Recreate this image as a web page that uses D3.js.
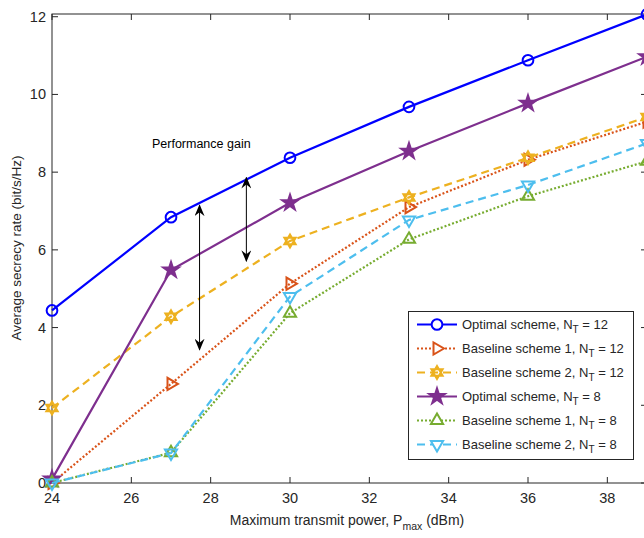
<!DOCTYPE html>
<html>
<head>
<meta charset="utf-8">
<script src="https://cdn.jsdelivr.net/npm/d3@7"></script>
<style>
  body { margin: 0; background: #fff; }
  svg text { font-family: "Liberation Sans", Arial, sans-serif; fill: #262626; }
</style>
</head>
<body>
<div id="chart"></div>
<script>
// datos
const potencia = [24, 27, 30, 33, 36, 39];
const optimo12 = [4.44, 6.84, 8.37, 9.68, 10.88, 12.06];
const base1_12 = [0.0, 2.55, 5.13, 7.1, 8.32, 9.3];
const base2_12 = [1.93, 4.28, 6.23, 7.35, 8.37, 9.42];
const optimo8 = [0.1, 5.48, 7.21, 8.54, 9.77, 10.97];
const base1_8 = [0.0, 0.78, 4.37, 6.27, 7.38, 8.28];
const base2_8 = [0.0, 0.77, 4.8, 6.77, 7.67, 8.74];
const xTicks = [24, 26, 28, 30, 32, 34, 36, 38];
const yTicks = [0, 2, 4, 6, 8, 10, 12];
// flechas de ganancia: [x, y inicio, y fin]
const flechas = [[27.72, 7.15, 3.43], [28.9, 7.86, 5.71]];

const series = [
  {nombre: "Optimal scheme, N", nt: "12", valores: optimo12, color: "#0000ff", dash: null, marca: "circulo"},
  {nombre: "Baseline scheme 1, N", nt: "12", valores: base1_12, color: "#d95319", dash: "2,2", marca: "derecha"},
  {nombre: "Baseline scheme 2, N", nt: "12", valores: base2_12, color: "#edb120", dash: "8,5", marca: "hexagrama"},
  {nombre: "Optimal scheme, N", nt: "8", valores: optimo8, color: "#7e2f8e", dash: null, marca: "estrella"},
  {nombre: "Baseline scheme 1, N", nt: "8", valores: base1_8, color: "#77ac30", dash: "2,2", marca: "arriba"},
  {nombre: "Baseline scheme 2, N", nt: "8", valores: base2_8, color: "#4dbeee", dash: "8,5", marca: "abajo"}
];

const ancho = 644, alto = 538;
const margen = {izq: 52, der: 647, arriba: 14, abajo: 483};

const svg = d3.select("#chart")
  .append("svg")
  .attr("width", ancho)
  .attr("height", alto);

const x = d3.scaleLinear().domain([24, 39]).range([margen.izq, margen.der]);
const y = d3.scaleLinear().domain([0, 12.07]).range([margen.abajo, margen.arriba]);

// caja de los ejes
const ejes = svg.append("g").attr("stroke", "#262626").attr("stroke-width", 1).attr("fill", "none");
ejes.append("rect")
  .attr("x", margen.izq).attr("y", margen.arriba)
  .attr("width", margen.der - margen.izq).attr("height", margen.abajo - margen.arriba);

// ticks hacia adentro
xTicks.forEach(t => {
  ejes.append("line").attr("x1", x(t)).attr("x2", x(t)).attr("y1", margen.abajo).attr("y2", margen.abajo - 6);
  ejes.append("line").attr("x1", x(t)).attr("x2", x(t)).attr("y1", margen.arriba).attr("y2", margen.arriba + 6);
});
yTicks.forEach(t => {
  ejes.append("line").attr("x1", margen.izq).attr("x2", margen.izq + 6).attr("y1", y(t)).attr("y2", y(t));
  ejes.append("line").attr("x1", margen.der).attr("x2", margen.der - 6).attr("y1", y(t)).attr("y2", y(t));
});

svg.append("g").selectAll("text")
  .data(xTicks)
  .join("text")
  .attr("x", d => x(d))
  .attr("y", 503)
  .attr("text-anchor", "middle")
  .attr("font-size", 14.5)
  .text(d => d);

svg.append("g").selectAll("text")
  .data(yTicks)
  .join("text")
  .attr("x", 46)
  .attr("y", d => y(d) + 5)
  .attr("text-anchor", "end")
  .attr("font-size", 14.5)
  .text(d => d);

// etiquetas de ejes
const xl = svg.append("text")
  .attr("x", 347).attr("y", 525)
  .attr("text-anchor", "middle")
  .attr("font-size", 14);
xl.append("tspan").text("Maximum transmit power, P");
xl.append("tspan").attr("font-size", 10.5).attr("dy", 5).text("max");
xl.append("tspan").attr("dy", -5).text(" (dBm)");

svg.append("text")
  .attr("transform", "translate(21,248) rotate(-90)")
  .attr("text-anchor", "middle")
  .attr("font-size", 13.5)
  .text("Average secrecy rate (bit/s/Hz)");

// marcadores
function tri(r) {
  const h = r * 1.5;
  return `M0,${-r}L${h * 0.58},${r * 0.5}L${-h * 0.58},${r * 0.5}Z`;
}
function marcador(tipo) {
  if (tipo === "circulo") return {d: d3.symbol(d3.symbolCircle, 90)(), rot: 0, lleno: false};
  if (tipo === "estrella") return {d: d3.symbol(d3.symbolStar, 75)(), rot: 0, lleno: true};
  if (tipo === "hexagrama") return {d: tri(6.5) + tri(6.5).replace(/(-?\d+\.?\d*),(-?\d+\.?\d*)/g, (m, a, b) => a + "," + (-b)), rot: 0, lleno: true};
  if (tipo === "arriba") return {d: tri(7), rot: 0, lleno: false};
  if (tipo === "abajo") return {d: tri(7), rot: 180, lleno: false};
  return {d: tri(7), rot: 90, lleno: false};
}

const linea = d3.line()
  .x((d, i) => x(potencia[i]))
  .y(d => y(d));

const plot = svg.append("g");

series.forEach(s => {
  plot.append("path")
    .attr("d", linea(s.valores))
    .attr("fill", "none")
    .attr("stroke", s.color)
    .attr("stroke-width", 2.2)
    .attr("stroke-dasharray", s.dash);
  const m = marcador(s.marca);
  plot.append("g").selectAll("path")
    .data(s.valores)
    .join("path")
    .attr("d", m.d)
    .attr("transform", (d, i) => `translate(${x(potencia[i])},${y(d)}) rotate(${m.rot})`)
    .attr("fill", m.lleno ? s.color : "none")
    .attr("stroke", s.color)
    .attr("stroke-width", 2);
});

// flechas de doble punta
const defs = svg.append("defs");
defs.append("marker")
  .attr("id", "punta")
  .attr("viewBox", "0 -5 12 10")
  .attr("refX", 11).attr("refY", 0)
  .attr("markerWidth", 12).attr("markerHeight", 10)
  .attr("markerUnits", "userSpaceOnUse")
  .attr("orient", "auto-start-reverse")
  .append("path")
  .attr("d", "M0,-5L12,0L0,5L4,0Z")
  .attr("fill", "#000");

svg.append("g").selectAll("line")
  .data(flechas)
  .join("line")
  .attr("x1", d => x(d[0])).attr("x2", d => x(d[0]))
  .attr("y1", d => y(d[1])).attr("y2", d => y(d[2]))
  .attr("stroke", "#000")
  .attr("stroke-width", 1)
  .attr("marker-start", "url(#punta)")
  .attr("marker-end", "url(#punta)");

svg.append("text")
  .attr("x", x(26.52)).attr("y", y(8.72) + 4)
  .attr("font-size", 12.5)
  .style("fill", "#000")
  .text("Performance gain");

// leyenda
const ley = svg.append("g");
ley.append("rect")
  .attr("x", 408.5).attr("y", 311.5)
  .attr("width", 225).attr("height", 148)
  .attr("fill", "#fff")
  .attr("stroke", "#262626")
  .attr("stroke-width", 1);

series.forEach((s, i) => {
  const fy = 324.5 + i * 24;
  ley.append("line")
    .attr("x1", 417).attr("x2", 457)
    .attr("y1", fy).attr("y2", fy)
    .attr("stroke", s.color)
    .attr("stroke-width", 2.2)
    .attr("stroke-dasharray", s.dash);
  const m = marcador(s.marca);
  ley.append("path")
    .attr("d", m.d)
    .attr("transform", `translate(437,${fy}) rotate(${m.rot})`)
    .attr("fill", m.lleno ? s.color : "#fff")
    .attr("stroke", s.color)
    .attr("stroke-width", 2);
  const t = ley.append("text")
    .attr("x", 462).attr("y", fy + 4.5)
    .attr("font-size", 13);
  t.append("tspan").text(s.nombre);
  t.append("tspan").attr("font-size", 10).attr("dy", 4).text("T");
  t.append("tspan").attr("dy", -4).text(" = " + s.nt);
});
</script>
</body>
</html>
